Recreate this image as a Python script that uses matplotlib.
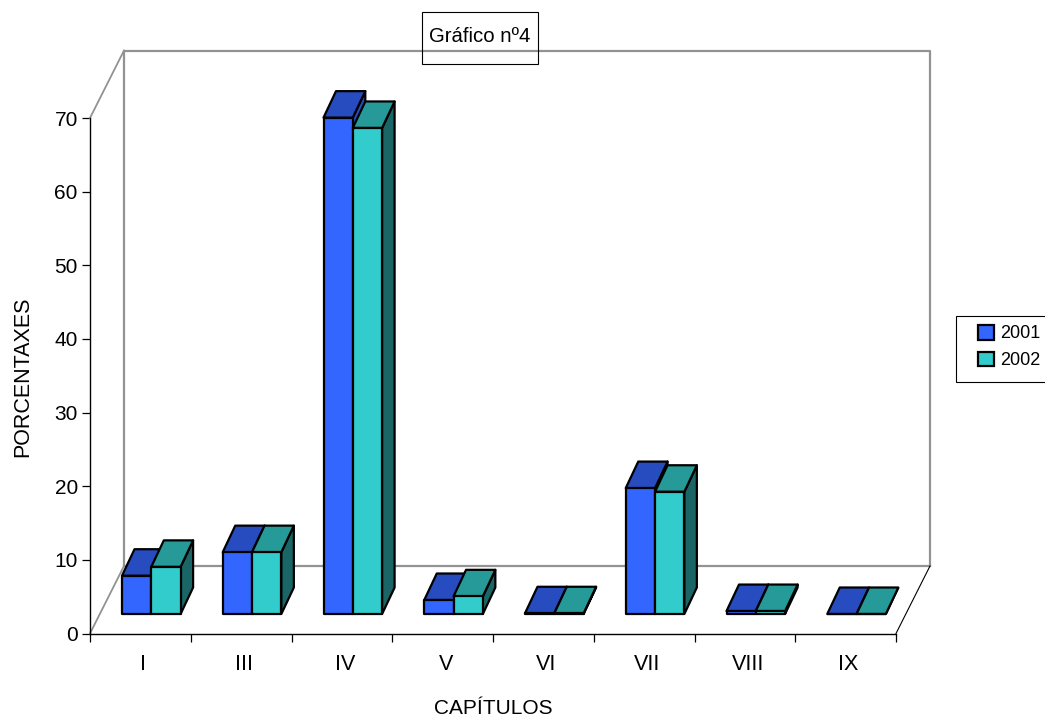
import matplotlib
matplotlib.use('Agg')
import matplotlib.pyplot as plt
from matplotlib.patches import Polygon, Patch, Rectangle

capitulos = ['I', 'III', 'IV', 'V', 'VI', 'VII', 'VIII', 'IX']
anos = ['2001', '2002']
valores_2001 = [5.2, 8.4, 67.4, 1.9, 0.1, 17.1, 0.4, 0.0]
valores_2002 = [6.4, 8.4, 66.0, 2.4, 0.1, 16.6, 0.4, 0.0]
yticks = [0, 10, 20, 30, 40, 50, 60, 70]

plt.rcParams['font.family'] = 'Liberation Sans'

W, H = 1045, 720
fig = plt.figure(figsize=(W / 100, H / 100), dpi=100)
ax = fig.add_axes([90 / W, (H - 633.5) / H, 806 / W, 515.5 / H])
ax.set_xlim(0, 8)
ax.set_ylim(0, 70)

# px to data units
ux = 8 / 806
uy = 70 / 515.5

# wall depth, floor lift and bar depth
wall_dx, wall_dy = 34 * ux, 67.5 * uy
lift_dx, lift_dy = 32 * ux, 19.5 * uy
bar_w = 29.3 * ux
bar_dx, bar_dy = 12.5 * ux, 26.5 * uy

gris = '#929292'
ax.plot([wall_dx, wall_dx, 8 + wall_dx, 8 + wall_dx],
        [wall_dy, 70 + wall_dy, 70 + wall_dy, wall_dy], color=gris, lw=1.6, clip_on=False)
ax.plot([wall_dx, 8 + wall_dx], [wall_dy, wall_dy], color=gris, lw=1.6, clip_on=False)
ax.plot([0, wall_dx], [70, 70 + wall_dy], color=gris, lw=1.3, clip_on=False)
ax.plot([0, wall_dx], [0, wall_dy], color=gris, lw=1.3, clip_on=False)
ax.plot([8, 8 + wall_dx], [0, wall_dy], color='black', lw=0.8, clip_on=False)


def barra(x, v, frente, topo, lado):
    y0 = lift_dy
    y1 = lift_dy + v
    x1 = x + bar_w
    caras = [
        ([(x1, y0), (x1 + bar_dx, y0 + bar_dy), (x1 + bar_dx, y1 + bar_dy), (x1, y1)], lado),
        ([(x, y1), (x1, y1), (x1 + bar_dx, y1 + bar_dy), (x + bar_dx, y1 + bar_dy)], topo),
        ([(x, y0), (x1, y0), (x1, y1), (x, y1)], frente),
    ]
    for pts, cor in caras:
        ax.add_patch(Polygon(pts, closed=True, facecolor=cor, edgecolor='black', lw=1.6,
                             joinstyle='round', clip_on=False, zorder=3))


for i in range(len(capitulos)):
    x0 = i + lift_dx
    barra(x0, valores_2001[i], '#3366ff', '#264cbf', '#264cbf')
    barra(x0 + bar_w, valores_2002[i], '#33cccc', '#269999', '#1a6666')

for s in ['top', 'right']:
    ax.spines[s].set_visible(False)
for s in ['left', 'bottom']:
    ax.spines[s].set_linewidth(1.0)

ax.set_yticks(yticks)
ax.set_xticks(range(9))
ax.set_xticklabels([])
ax.set_xticks([i + 0.53 for i in range(8)], minor=True)
ax.set_xticklabels(capitulos, minor=True)
ax.tick_params(axis='x', which='major', length=5.8, width=0.9)
ax.tick_params(axis='x', which='minor', length=0, pad=15, labelsize=15.5)
ax.tick_params(axis='y', length=5.8, width=0.9, pad=3, labelsize=15)

fig.text(493 / W, 1 - 708 / H, 'CAPÍTULOS', ha='center', va='center', fontsize=15)
fig.text(23 / W, 1 - 377 / H, 'PORCENTAXES', ha='center', va='center', rotation=90, fontsize=15.5)

fig.add_artist(Rectangle((422 / W, 1 - 64 / H), 116 / W, 52 / H, transform=fig.transFigure,
                         facecolor='none', edgecolor='black', lw=0.8))
fig.text(480 / W, 1 - 37 / H, 'Gráfico nº4', ha='center', va='center', fontsize=14.7)

fig.add_artist(Rectangle((956 / W, 1 - 382 / H), 100 / W, 66 / H, transform=fig.transFigure,
                         facecolor='white', edgecolor='black', lw=0.8))
handles = [Patch(facecolor='#3366ff', edgecolor='black', lw=1.6, label=anos[0]),
           Patch(facecolor='#33cccc', edgecolor='black', lw=1.6, label=anos[1])]
fig.legend(handles=handles, loc='center left', bbox_to_anchor=(978 / W, 1 - 347 / H),
           frameon=False, fontsize=13, handlelength=0.89, handleheight=0.89, handletextpad=0.33,
           labelspacing=0.5, borderpad=0, borderaxespad=0)

fig.savefig('out.png', dpi=100)
